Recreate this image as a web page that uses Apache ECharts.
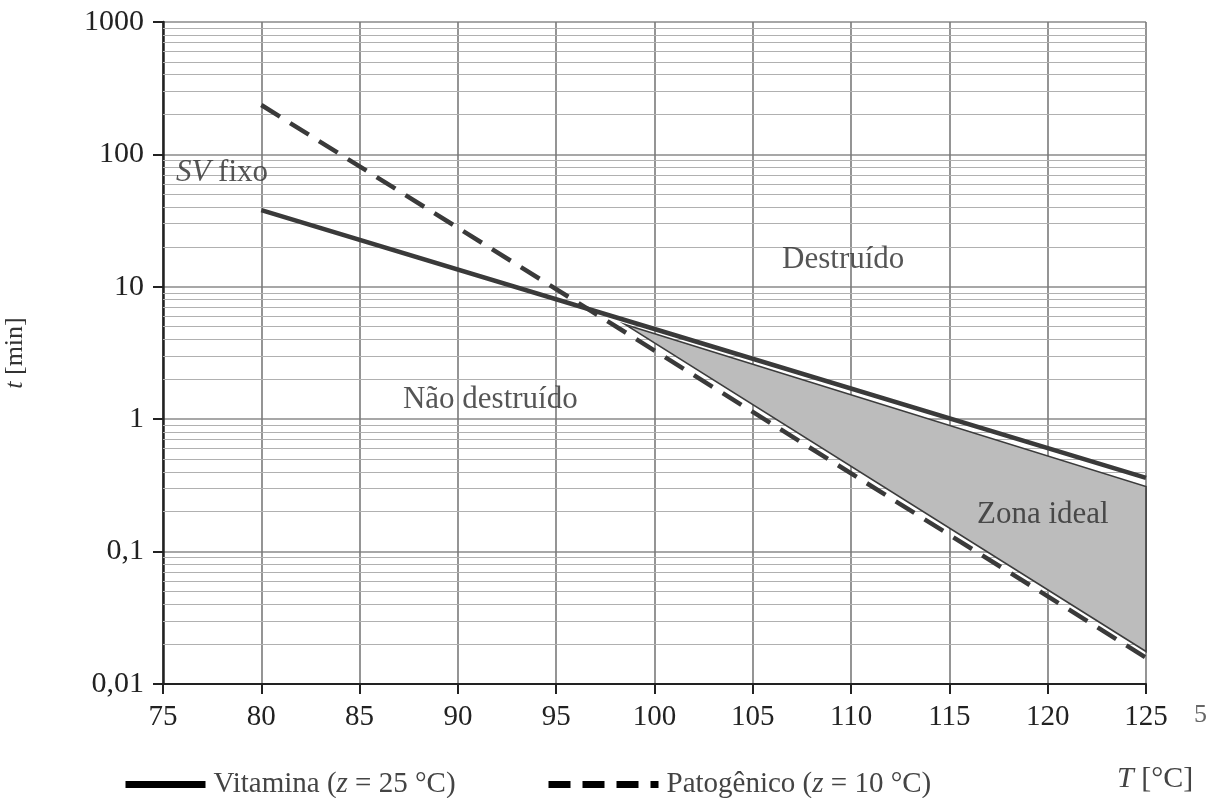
<!DOCTYPE html>
<html>
<head>
<meta charset="utf-8">
<script src="https://cdn.jsdelivr.net/npm/echarts@6/dist/echarts.min.js"></script>
<style>html,body{margin:0;padding:0;background:#fff;}#c{width:1219px;height:798px;}</style>
</head>
<body>
<div id="c"></div>
<script>
// ---- data ----
const vitaminT = [80, 100, 125];
const vitaminTime = [38, 4.8, 0.36];
const pathogenT = [80, 100, 125];
const pathogenTime = [236, 3.3, 0.0158];
const zoneT = [98.5, 125, 125];
const zoneTime = [5.2, 0.31, 0.0176];
const xTicks = [75, 80, 85, 90, 95, 100, 105, 110, 115, 120, 125];
const yTickLabels = ['0,01', '0,1', '1', '10', '100', '1000'];
const minorFactors = [2, 3, 4, 5, 6, 7, 8, 9];
const decades = [0.01, 0.1, 1, 10, 100];
const annotations = [
  {name: 'sv', value: [78.0, 73]},
  {name: 'Destruído', value: [109.6, 15.9]},
  {name: 'Não destruído', value: [91.65, 1.40]},
  {name: 'Zona ideal', value: [119.75, 0.19]}
];
// --------------------------------------
const FONT = 'Liberation Serif';
const minorLines = [];
decades.forEach(d => minorFactors.forEach(f => minorLines.push({yAxis: +(d * f).toPrecision(3)})));

const chart = echarts.init(document.getElementById('c'));
const vitName = 'Vitamina (z = 25 °C)';
const patName = 'Patogênico (z = 10 °C)';
const legendCommon = {
  top: 765,
  itemHeight: 14,
  textStyle: {fontFamily: FONT, fontSize: 29, color: '#444', padding: [0, 0, 0, 3],
    rich: {i: {fontFamily: FONT, fontSize: 29, fontStyle: 'italic', color: '#444'}}},
  formatter: n => n.replace('(z', '({i|z}'),
  lineStyle: {width: 7, color: '#000'},
  itemStyle: {opacity: 0},
  itemGap: 0,
  selectedMode: false
};
chart.setOption({
  animation: false,
  grid: {left: 163, top: 22, right: 73, bottom: 114, containLabel: false, outerBoundsMode: 'none'},
  legend: [
    Object.assign({}, legendCommon, {left: 117, data: [vitName], itemWidth: 80}),
    Object.assign({}, legendCommon, {left: 540, data: [patName], itemWidth: 110})
  ],
  xAxis: {
    type: 'value', min: 75, max: 125, interval: 5,
    axisLine: {show: true, lineStyle: {color: '#222', width: 2}},
    axisTick: {show: true, length: 10, lineStyle: {color: '#222', width: 2}},
    axisLabel: {fontFamily: FONT, fontSize: 29, color: '#222', margin: 19,
      formatter: v => xTicks.includes(v) ? String(v) : ''},
    splitLine: {show: true, lineStyle: {color: '#7a7a7a', width: 1.6}}
  },
  yAxis: {
    type: 'log', logBase: 10, min: 0.01, max: 1000,
    name: '{i|t} [min]', nameLocation: 'middle', nameGap: 135, nameRotate: 90,
    nameTextStyle: {fontFamily: FONT, fontSize: 26, color: '#333',
      rich: {i: {fontFamily: FONT, fontSize: 26, fontStyle: 'italic', color: '#333'}}},
    axisLine: {show: true, lineStyle: {color: '#222', width: 2.5}},
    axisTick: {show: true, length: 10, lineStyle: {color: '#222', width: 2}},
    axisLabel: {fontFamily: FONT, fontSize: 30, color: '#222', margin: 19,
      formatter: v => yTickLabels[Math.round(Math.log10(v)) + 2]},
    splitLine: {show: true, lineStyle: {color: '#8a8a8a', width: 1.5}}
  },
  graphic: [
    {type: 'text', left: 1117, top: 764, style: {text: '{i|T} [°C]', fontFamily: FONT, fontSize: 30, fill: '#444',
      rich: {i: {fontFamily: FONT, fontSize: 30, fontStyle: 'italic', fill: '#444'}}}},
    {type: 'text', left: 1194, top: 702, style: {text: '5', fontFamily: FONT, fontSize: 26, fill: '#666'}}
  ],
  series: [
    {
      type: 'line', name: 'minor', data: [], silent: true,
      markLine: {silent: true, symbol: ['none', 'none'], z: 1, label: {show: false},
        lineStyle: {color: '#b0b0b0', width: 1.2, type: 'solid'}, data: minorLines}
    },
    {
      type: 'custom', name: 'zona', z: 2, silent: true,
      data: zoneT.map((t, i) => [t, zoneTime[i]]),
      renderItem: (params, api) => {
        if (params.dataIndex !== 0) return null;
        const pts = zoneT.map((t, i) => api.coord([t, zoneTime[i]]));
        return {type: 'polygon', shape: {points: pts},
          style: {fill: '#bcbcbc', stroke: '#3c3c3c', lineWidth: 1.6}};
      }
    },
    {
      type: 'line', name: vitName, z: 3, symbol: 'none', silent: true,
      data: vitaminT.map((t, i) => [t, vitaminTime[i]]),
      lineStyle: {color: '#3a3a3a', width: 4.5}
    },
    {
      type: 'line', name: patName, z: 3, symbol: 'none', silent: true,
      data: pathogenT.map((t, i) => [t, pathogenTime[i]]),
      lineStyle: {color: '#3a3a3a', width: 4.5, type: [22, 12]}
    },
    {
      type: 'scatter', name: 'labels', z: 4, silent: true, symbolSize: 0,
      data: annotations,
      label: {show: true, position: 'inside', fontFamily: FONT, fontSize: 31, color: '#2a2a2a',
        formatter: p => p.name === 'sv' ? '{i|SV} fixo' : p.name,
        rich: {i: {fontFamily: FONT, fontSize: 31, fontStyle: 'italic', color: '#2a2a2a'}}}
    }
  ]
});
</script>
</body>
</html>
